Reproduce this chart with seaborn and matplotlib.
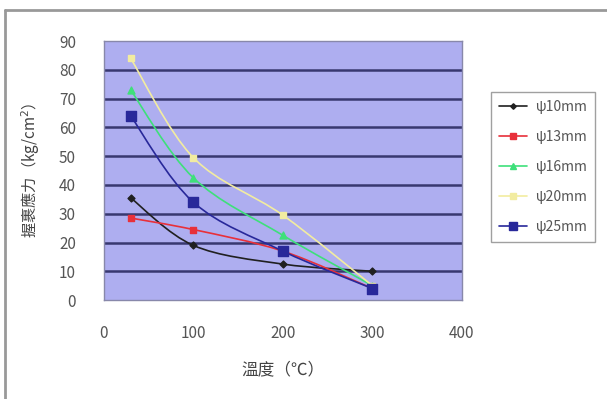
import numpy as np
import pandas as pd
import matplotlib
matplotlib.use('Agg')
import matplotlib.pyplot as plt
from matplotlib.path import Path
from matplotlib.patches import PathPatch
from matplotlib.lines import Line2D
import seaborn as sns

# 溫度
temps = [30, 100, 200, 300]
# 握裹應力 (kg/cm2)
psi10 = [35.5, 19.0, 12.5, 10.0]
psi13 = [28.5, 24.5, 17.0, 4.0]
psi16 = [73.0, 42.5, 22.5, 5.0]
psi20 = [84.0, 49.5, 29.5, 5.0]
psi25 = [64.0, 34.0, 17.0, 4.0]
labels = ['ψ10mm', 'ψ13mm', 'ψ16mm', 'ψ20mm', 'ψ25mm']
colors = ['#202020', '#e8303a', '#3ee07a', '#f2eca0', '#28289a']
markers = ['D', 's', '^', 's', 's']
msizes = [3.5, 5, 5, 5, 7]

df = pd.concat([pd.DataFrame({'temp': temps, 'val': v, 'size': lab})
                for v, lab in zip([psi10, psi13, psi16, psi20, psi25], labels)])

sns.set_style('white')
plt.rcParams['font.family'] = ['Noto Sans CJK TC', 'DejaVu Sans']

fig = plt.figure(figsize=(6.07, 3.99), dpi=100)
ax = fig.add_axes([0.171, 0.248, 0.59, 0.649])
ax.set_facecolor('#aeaef0')

for y in range(10, 90, 10):
    ax.axhline(y, color='#383870', lw=1.8, zorder=1)


def smooth(xs, ys):
    # Excel 風格平滑線 (Catmull-Rom -> Bezier)
    p = np.column_stack([xs, ys]).astype(float)
    pts = [p[0]]
    codes = [Path.MOVETO]
    n = len(p)
    for i in range(n - 1):
        p0 = p[i - 1] if i > 0 else p[i]
        p3 = p[i + 2] if i + 2 < n else p[i + 1]
        c1 = p[i] + (p[i + 1] - p0) / 6
        c2 = p[i + 1] - (p3 - p[i]) / 6
        pts += [c1, c2, p[i + 1]]
        codes += [Path.CURVE4] * 3
    return Path(pts, codes)


for lab, c in zip(labels, colors):
    d = df[df['size'] == lab]
    ax.add_patch(PathPatch(smooth(d['temp'], d['val']), fill=False,
                           edgecolor=c, lw=1.2, zorder=2))

for lab, c, m, ms in zip(labels, colors, markers, msizes):
    d = df[df['size'] == lab]
    sns.scatterplot(data=d, x='temp', y='val', color=c, marker=m,
                    s=ms ** 2, edgecolor=c, linewidth=1, ax=ax, zorder=3)

ax.set_xlim(0, 400)
ax.set_ylim(0, 90)
ax.set_xticks(range(0, 401, 100))
ax.set_yticks(range(0, 91, 10))
ax.tick_params(axis='y', colors='#555555', labelsize=11, length=0, pad=20)
ax.tick_params(axis='x', colors='#555555', labelsize=11, length=0, pad=18)
for s in ax.spines.values():
    s.set_color('#8888aa')
    s.set_linewidth(1)

ax.set_xlabel('溫度（℃）', fontsize=12, color='#444444', labelpad=14)
ax.set_ylabel('握裹應力（kg/cm$^2$）', fontsize=11, color='#444444', labelpad=12)

handles = [Line2D([0], [0], color=c, marker=m, markersize=ms * 0.8, lw=1.2,
                  markeredgecolor=c) for c, m, ms in zip(colors, markers, msizes)]
leg = fig.legend(handles, labels, loc='upper left', bbox_to_anchor=(0.797, 0.787),
                 frameon=True, fancybox=False, fontsize=10, handlelength=2.0,
                 labelspacing=1.15, borderpad=0.6, handletextpad=0.6)
leg.get_frame().set_edgecolor('#888888')
for t in leg.get_texts():
    t.set_color('#555555')

# 外框
fig.add_artist(Line2D([0.008, 0.008], [0.0, 0.975], color='#999999', lw=2,
                      transform=fig.transFigure))
fig.add_artist(Line2D([0.008, 1.0], [0.975, 0.975], color='#999999', lw=2,
                      transform=fig.transFigure))

fig.savefig('out.png', dpi=100, facecolor='white')
